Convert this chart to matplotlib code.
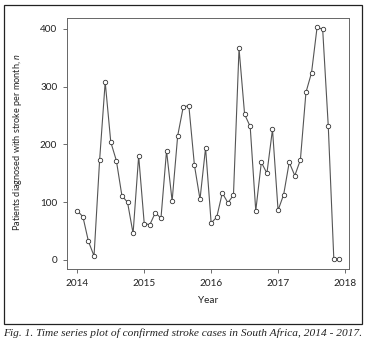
import numpy as np
import matplotlib
matplotlib.use("Agg")
import matplotlib.pyplot as plt
from matplotlib.patches import Rectangle

# Monthly confirmed stroke cases, Jan 2014 - Dec 2017
cases_2014 = [85, 75, 32, 7, 173, 308, 204, 172, 111, 100, 46, 180]
cases_2015 = [63, 61, 82, 72, 189, 102, 215, 265, 267, 164, 105, 194]
cases_2016 = [64, 74, 116, 99, 112, 366, 252, 231, 85, 169, 150, 226]
cases_2017 = [86, 113, 169, 146, 173, 290, 324, 403, 399, 232, 1, 1]
cases = cases_2014 + cases_2015 + cases_2016 + cases_2017
time = 2014 + np.arange(len(cases)) / 12

year_ticks = [2014, 2015, 2016, 2017, 2018]
count_ticks = [0, 100, 200, 300, 400]

caption = "Fig. 1. Time series plot of confirmed stroke cases in South Africa, 2014 - 2017."

plt.rcParams["font.family"] = ["Lato", "DejaVu Sans"]
plt.rcParams["mathtext.fontset"] = "custom"
plt.rcParams["mathtext.it"] = "Lato:italic"

fig = plt.figure(figsize=(3.69, 3.45), dpi=100)
ax = fig.add_axes([0.1816, 0.2203, 0.7642, 0.7275])

ax.plot(time, cases, color="#555555", lw=0.8, marker="o", ms=3.2,
        mfc="white", mec="#333333", mew=0.6)

ax.set_xlim(2013.846, 2018.06)
ax.set_ylim(-15.6, 418.7)
ax.set_xticks(year_ticks)
ax.set_yticks(count_ticks)
ax.tick_params(labelsize=7.2, length=3, width=0.6, pad=4, colors="#555555",
               labelcolor="#222222")
for s in ax.spines.values():
    s.set_color("#666666")
    s.set_linewidth(0.7)

ax.set_xlabel("Year", fontsize=7.2, color="#222222", labelpad=6)
fig.text(0.048, 0.589, "Patients diagnosed with stroke per month, $n$",
         rotation=90, ha="center", va="center", fontsize=6.6, color="#222222")

# frame around the figure and the caption below it
fig.patches.append(Rectangle((0.0108, 0.0609), 0.9702, 0.9246,
                             transform=fig.transFigure, fill=False,
                             ec="#222222", lw=0.9))
fig.text(0.009, 0.035, caption, ha="left", va="center", fontsize=8.2,
         family="Liberation Serif", style="italic", color="#222222")

fig.savefig("out.png", dpi=100)
